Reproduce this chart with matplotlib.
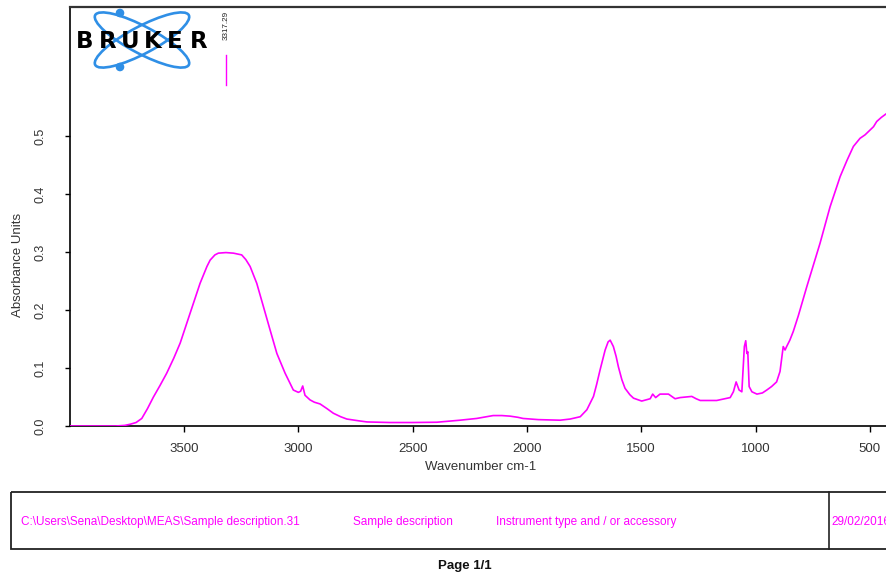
import matplotlib
matplotlib.use("Agg")
import matplotlib.pyplot as plt
from matplotlib.patches import Ellipse, Circle, Rectangle

plt.rcParams['font.family'] = ['Liberation Sans', 'DejaVu Sans']

# ---- data ----
wavenumber = [3999, 3800, 3760, 3736, 3710, 3685, 3660, 3634, 3605, 3576, 3545, 3517,
              3474, 3430, 3400, 3386, 3365, 3350, 3317, 3284, 3248, 3230, 3211, 3182,
              3153, 3124, 3094, 3058, 3022, 3000, 2990, 2981, 2971, 2949, 2930, 2905,
              2875, 2847, 2815, 2788, 2737, 2700, 2600, 2500, 2394, 2293, 2220, 2148,
              2110, 2074, 2040, 2017, 1950, 1855, 1811, 1767, 1738, 1709, 1695, 1680,
              1658, 1645, 1636, 1622, 1610, 1600, 1585, 1571, 1550, 1534, 1498, 1461,
              1450, 1437, 1418, 1381, 1352, 1330, 1279, 1260, 1242, 1170, 1111, 1097,
              1085, 1072, 1060, 1049, 1043, 1038, 1034, 1028, 1016, 994, 970, 951,
              930, 908, 893, 879, 871, 864, 850, 835, 813, 776, 718, 674, 630, 600,
              572, 543, 521, 484, 470, 450, 426, 400]
absorbance = [0.0, 0.0, 0.001, 0.003, 0.006, 0.013, 0.030, 0.050, 0.070, 0.091, 0.117, 0.143,
              0.194, 0.246, 0.275, 0.286, 0.295, 0.298, 0.299, 0.298, 0.295, 0.287, 0.275, 0.246,
              0.206, 0.166, 0.125, 0.091, 0.062, 0.058, 0.060, 0.069, 0.053, 0.045, 0.041, 0.038,
              0.030, 0.022, 0.016, 0.012, 0.009, 0.007, 0.006, 0.006, 0.0065, 0.010, 0.013, 0.018,
              0.018, 0.017, 0.015, 0.013, 0.011, 0.010, 0.012, 0.016, 0.028, 0.051, 0.072, 0.097,
              0.131, 0.145, 0.148, 0.137, 0.120, 0.102, 0.080, 0.065, 0.054, 0.048, 0.043, 0.047,
              0.055, 0.049, 0.055, 0.055, 0.047, 0.049, 0.051, 0.047, 0.044, 0.044, 0.049, 0.059,
              0.076, 0.062, 0.059, 0.137, 0.147, 0.125, 0.128, 0.068, 0.059, 0.055, 0.057, 0.062,
              0.068, 0.076, 0.094, 0.137, 0.131, 0.137, 0.148, 0.163, 0.190, 0.240, 0.315, 0.378,
              0.430, 0.458, 0.482, 0.496, 0.502, 0.516, 0.525, 0.532, 0.539, 0.546]

x_ticks = [3500, 3000, 2500, 2000, 1500, 1000, 500]
x_tick_labels = ["3500", "3000", "2500", "2000", "1500", "1000", "500"]
y_ticks = [0.0, 0.1, 0.2, 0.3, 0.4, 0.5]
y_tick_labels = ["0.0", "0.1", "0.2", "0.3", "0.4", "0.5"]

peak_position = 3317.29
peak_label = "3317.29"
footer_texts = ["C:\\Users\\Sena\\Desktop\\MEAS\\Sample description.31",
                "Sample description",
                "Instrument type and / or accessory",
                "29/02/2016"]

MAG = '#ff00ff'
W, H = 887, 578

fig = plt.figure(figsize=(W / 100, H / 100), dpi=100)
fig.patch.set_facecolor('white')

ax = fig.add_axes([70 / W, (H - 426) / H, (W - 70) / W, (426 - 7) / H])
ax.plot(wavenumber, absorbance, color=MAG, lw=1.2, zorder=3)
ax.set_xlim(3999, 425)
ax.set_ylim(0.0, 0.7224)

ax.spines['right'].set_visible(False)
ax.spines['top'].set_linewidth(1.6)
ax.spines['top'].set_color('#333333')
ax.spines['left'].set_linewidth(1.2)
ax.spines['bottom'].set_linewidth(1.2)

ax.set_xticks(x_ticks)
ax.set_xticklabels(x_tick_labels)
ax.set_yticks(y_ticks)
ax.set_yticklabels(y_tick_labels, rotation=90, va='center')
ax.tick_params(axis='x', direction='out', length=4.3, width=1.0, pad=8,
               labelsize=9.5, labelcolor='#333333')
ax.tick_params(axis='y', direction='out', length=3.6, width=1.0, pad=13,
               labelsize=9, labelcolor='#333333')

ax.set_xlabel("Wavenumber cm-1", fontsize=9.5, color='#333333', va='center')
ax.xaxis.set_label_coords((481 - 70) / 817, (426 - 467) / 419)
ax.set_ylabel("Absorbance Units", fontsize=9.5, color='#333333', va='center')
ax.yaxis.set_label_coords((18 - 70) / 817, (426 - 265) / 419)

# peak label
ax.plot([peak_position, peak_position], [0.588, 0.640], color=MAG, lw=1.0)
ax.text(peak_position, 0.666, peak_label, rotation=90, ha='center', va='bottom',
        fontsize=5.8, color='#222222')

# ---- overlay in pixel coordinates: logo and footer ----
ov = fig.add_axes([0, 0, 1, 1], zorder=5)
ov.set_xlim(0, W)
ov.set_ylim(H, 0)
ov.axis('off')
ov.patch.set_visible(False)

blue = '#2f8fe6'
for ang in (28, -28):
    ov.add_patch(Ellipse((142, 40), 106, 27, angle=ang, fill=False,
                         edgecolor=blue, lw=1.9))
ov.add_patch(Circle((120, 13), 3.6, color=blue))
ov.add_patch(Circle((120, 67), 3.6, color=blue))
for letter, cx in zip("BRUKER", [85, 107.5, 130, 153, 175, 199]):
    ov.text(cx, 41, letter, ha='center', va='center', fontsize=16.5,
            fontweight='heavy', family='DejaVu Sans', color='black', zorder=6)

ov.add_patch(Rectangle((11, 492), 1000, 57, fill=False, edgecolor='#222222',
                       lw=1.3, clip_on=False))
ov.plot([829, 829], [492, 549], color='#222222', lw=1.2)
for txt, xp in zip(footer_texts, [21.5, 353.5, 496, 831.5]):
    ov.text(xp, 522, txt, ha='left', va='center', fontsize=8.5, color=MAG)
ov.text(465, 566, "Page 1/1", ha='center', va='center', fontsize=9.5,
        fontweight='bold', color='#111111')

fig.savefig("out.png", dpi=100)
